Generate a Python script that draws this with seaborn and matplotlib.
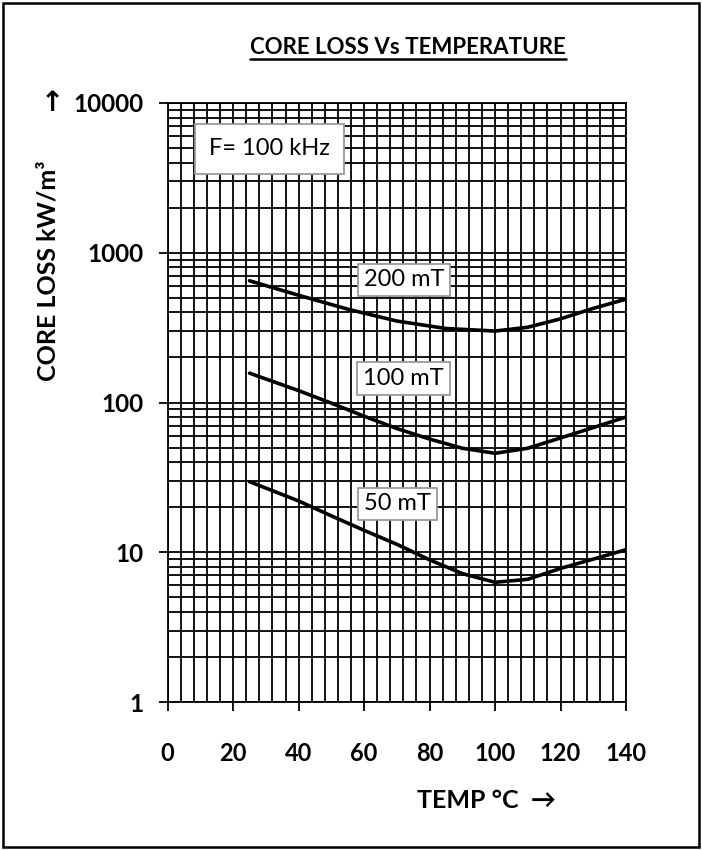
import matplotlib
matplotlib.use("Agg")
import matplotlib.pyplot as plt
import seaborn as sns
import pandas as pd
import numpy as np
from matplotlib.ticker import MultipleLocator, LogLocator, NullFormatter, FixedLocator
from matplotlib.lines import Line2D
from matplotlib.patches import Rectangle

# ---- data ----
temp_200 = [25, 40, 55, 70, 85, 100, 110, 120, 130, 140]
loss_200 = [650, 520, 420, 350, 312, 300, 318, 362, 425, 490]

temp_100 = [25, 40, 50, 60, 70, 80, 90, 100, 110, 120, 130, 140]
loss_100 = [157, 120, 99, 81, 67, 57, 49.5, 45.8, 49.5, 58, 68, 80]

temp_50 = [25, 40, 50, 60, 70, 80, 90, 100, 110, 120, 130, 140]
loss_50 = [29.6, 22, 17.5, 14, 11.3, 8.9, 7.2, 6.3, 6.6, 7.8, 9.0, 10.4]

x_ticks = [0, 20, 40, 60, 80, 100, 120, 140]
y_ticks = [1, 10, 100, 1000, 10000]
y_tick_labels = ["1", "10", "100", "1000", "10000"]

curve_labels = ["200 mT", "100 mT", "50 mT"]
label_x = [72.2, 72.0, 70.2]
label_y = [658, 144, 21]

sns.set_theme(style="white")
FAM = ['Lato', 'DejaVu Sans']
plt.rcParams['font.family'] = FAM

W, H = 702, 850
fig = plt.figure(figsize=(W / 100, H / 100), dpi=100)
fig.patch.set_facecolor("white")

def fx(px):
    return px / W

def fy(py):
    return 1 - py / H

ax = fig.add_axes([fx(167.7), fy(702), fx(626) - fx(167.7), fy(103) - fy(702)])

frames = []
for name, t, l in [("200 mT", temp_200, loss_200), ("100 mT", temp_100, loss_100), ("50 mT", temp_50, loss_50)]:
    frames.append(pd.DataFrame({"temp": t, "loss": l, "series": name}))
df = pd.concat(frames, ignore_index=True)

sns.lineplot(data=df, x="temp", y="loss", units="series", estimator=None,
             color="black", linewidth=2.6, ax=ax, legend=False, zorder=5)

ax.set_yscale("log")
ax.set_xlim(0, 140)
ax.set_ylim(1, 10000)

ax.xaxis.set_major_locator(FixedLocator(x_ticks))
ax.xaxis.set_minor_locator(MultipleLocator(4))
ax.yaxis.set_major_locator(FixedLocator(y_ticks))
ax.yaxis.set_minor_locator(LogLocator(base=10, subs=np.arange(2, 10)))
ax.yaxis.set_minor_formatter(NullFormatter())
ax.set_yticklabels(y_tick_labels)
ax.set_xticklabels([str(v) for v in x_ticks])

ax.grid(True, which="both", color="black", linewidth=1.3)
ax.set_axisbelow(True)
for s in ax.spines.values():
    s.set_color("black")
    s.set_linewidth(1.3)

ax.tick_params(axis="x", which="major", length=6.5, width=1.3, color="black",
               direction="out", pad=22, bottom=True)
ax.tick_params(axis="y", which="major", length=6.5, width=1.3, color="black",
               direction="out", pad=11, left=True)
ax.tick_params(which="minor", length=0)
for lab in ax.get_xticklabels():
    lab.set_fontweight("bold")
    lab.set_color("black")
    lab.set_fontsize(17)
for lab in ax.get_yticklabels():
    lab.set_fontweight("bold")
    lab.set_color("black")
    lab.set_fontsize(17.5)

ax.set_xlabel("")
ax.set_ylabel("")

# curve labels in boxes
for txt, x, y in zip(curve_labels, label_x, label_y):
    ax.text(x, y, txt, ha="center", va="center", fontsize=17, color="black", zorder=6,
            bbox=dict(boxstyle="square,pad=0.25", facecolor="white", edgecolor="#9a9a9a", linewidth=1.3))

ax.text(31.2, 4932, "F= 100 kHz", ha="center", va="center", fontsize=17, color="black", zorder=6,
        bbox=dict(boxstyle="square,pad=0.6", facecolor="white", edgecolor="#9a9a9a", linewidth=1.3))

# titles and axis labels
title = fig.text(fx(408), fy(47), "CORE LOSS Vs TEMPERATURE", ha="center", va="center",
                 fontsize=16, fontweight="bold", color="black")
fig.text(fx(48), fy(271), "CORE LOSS kW/m³", rotation=90, ha="center", va="center",
         fontsize=18, fontweight="bold", color="black")
fig.text(fx(52), fy(103), "↑", ha="center", va="center", fontsize=20, fontweight="bold",
         color="black", family=["DejaVu Sans"])
fig.text(fx(486), fy(800), "TEMP °C  →", ha="center", va="center", fontsize=18,
         fontweight="bold", color="black")

# outer frame
fig.add_artist(Rectangle((fx(3), fy(847)), fx(696), fy(3) - fy(847),
                         transform=fig.transFigure, fill=False, edgecolor="black", linewidth=1.8))

# underline for title
fig.canvas.draw()
bb = title.get_window_extent(renderer=fig.canvas.get_renderer())
yline = bb.y0 - 1
fig.add_artist(Line2D([bb.x0 / W, bb.x1 / W], [yline / H, yline / H], transform=fig.transFigure,
                      color="black", linewidth=1.8))

fig.savefig("out.png", dpi=100, facecolor="white")
